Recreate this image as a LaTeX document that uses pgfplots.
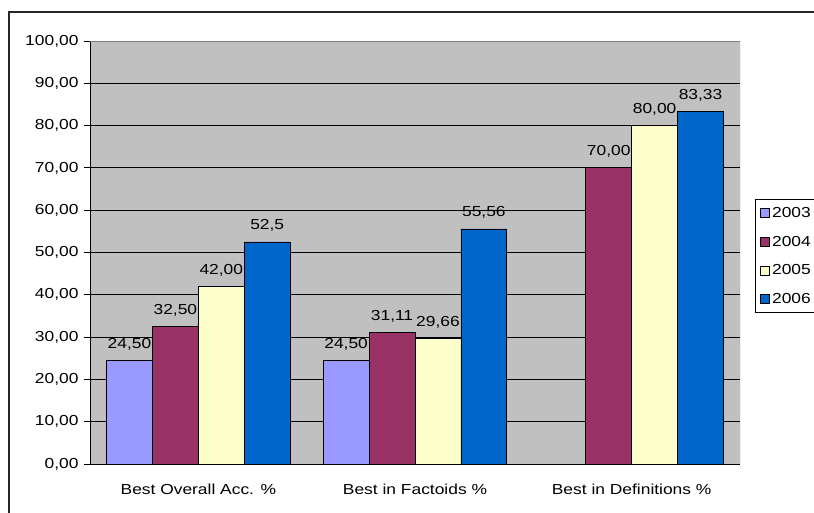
\documentclass[border=0pt]{standalone}
\usepackage{fontspec}
\setmainfont{Liberation Sans}[FakeStretch=1.2]
\usepackage{pgfplots}
\usepackage{pgfplotstable}
\pgfplotsset{compat=1.18}
\definecolor{cA}{HTML}{9999FF}
\definecolor{cB}{HTML}{993366}
\definecolor{cC}{HTML}{FFFFCC}
\definecolor{cD}{HTML}{0066CC}
\definecolor{plotbg}{HTML}{C0C0C0}
\newcommand\fs{\fontsize{14.5}{16}\selectfont}
\pgfplotstableread{
x y lab
0 24.5 24,50
1 24.5 24,50
}\tA
\pgfplotstableread{
x y lab
0 32.5 32,50
1 31.11 31,11
2 70.0 70,00
}\tB
\pgfplotstableread{
x y lab
0 42.0 42,00
1 29.66 29,66
2 80.0 80,00
}\tC
\pgfplotstableread{
x y lab
0 52.5 52,5
1 55.56 55,56
2 83.33 83,33
}\tD
\begin{document}
\begin{tikzpicture}[x=1pt,y=1pt]
\useasboundingbox (0,0) rectangle (814,513);
\begin{axis}[
  at={(90pt,49pt)}, anchor=south west,
  scale only axis, width=650pt, height=423pt,
  xmin=-0.5, xmax=2.5, ymin=0, ymax=100,
  axis x line*=bottom, axis y line*=left,
  axis line style={black, line width=0.8pt},
  axis background/.style={fill=plotbg},
  ybar=0pt, bar width=0.212,
  xtick={0,1,2},
  xticklabels={Best Overall Acc. \%, Best in Factoids \%, Best in Definitions \%},
  x tick style={draw=none},
  minor xtick={-0.5,0.5,1.5,2.5},
  minor x tick style={black, line width=0.8pt},
  minor tick length=6pt,
  ytick={0,10,...,100},
  y tick style={black, line width=0.8pt},
  major tick length=6pt,
  tick align=outside,
  ymajorgrids,
  grid style={black, line width=0.8pt},
  ticklabel style={font=\fs},
  /pgf/number format/assume math mode=true,
  yticklabel={\pgfmathprintnumber[fixed, fixed zerofill, precision=2, use comma]{\tick}},
  yticklabel style={xshift=-2pt},
  xticklabel style={yshift=-10pt},
  point meta=explicit symbolic,
  nodes near coords={\pgfplotspointmeta},
  every node near coord/.append style={font=\fs, anchor=south, inner sep=2pt, yshift=8pt, black},
  legend style={at={(1.0231,0.6265)}, anchor=north west, draw=black, line width=0.8pt, fill=white,
    font=\fs, row sep=13pt, inner xsep=5pt, inner ysep=6pt},
  legend cell align=left,
  legend image code/.code={\draw[#1, draw=black, line width=0.7pt] (0pt,-4.5pt) rectangle (9pt,4.5pt);},
]
\addplot[fill=cA, draw=black, line width=0.8pt] table[x=x, y=y, meta=lab] {\tA};
\addplot[fill=cB, draw=black, line width=0.8pt] table[x=x, y=y, meta=lab] {\tB};
\addplot[fill=cC, draw=black, line width=0.8pt] table[x=x, y=y, meta=lab] {\tC};
\addplot[fill=cD, draw=black, line width=0.8pt] table[x=x, y=y, meta=lab] {\tD};
\legend{2003,2004,2005,2006}
\draw[gray, line width=0.8pt] (rel axis cs:0,1) -- (rel axis cs:1,1) -- (rel axis cs:1,0);
\end{axis}
\draw[line width=1.8pt, black!85] (9,-20) rectangle (860,501);
\end{tikzpicture}
\end{document}
